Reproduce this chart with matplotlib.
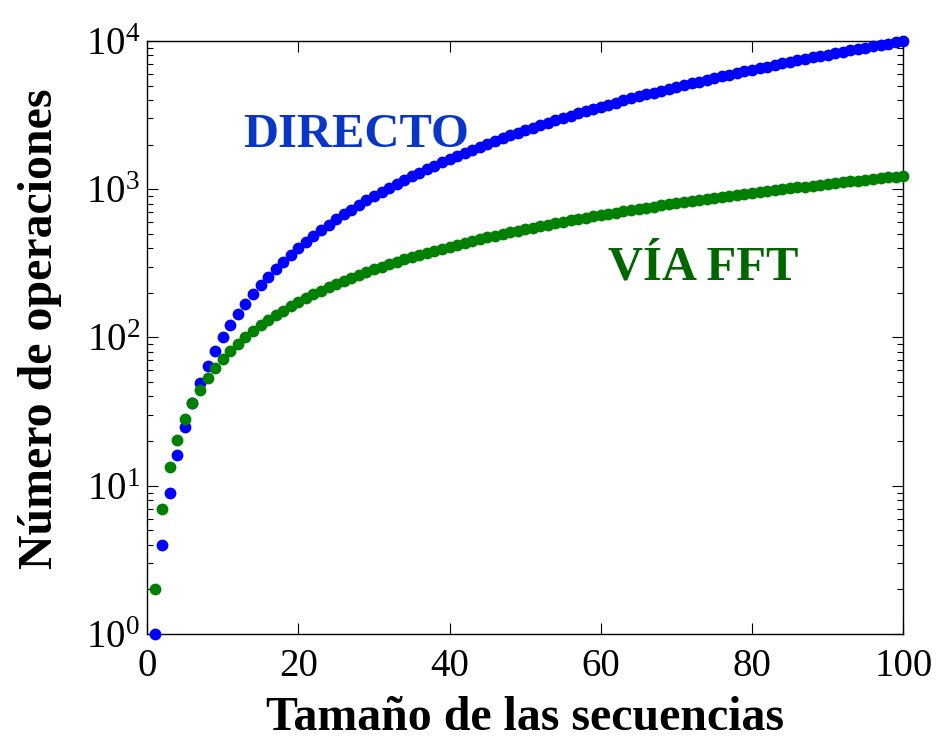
import matplotlib
matplotlib.use("Agg")
import matplotlib.pyplot as plt
import numpy as np

plt.rcParams['font.family'] = ['Liberation Serif', 'DejaVu Serif']
plt.rcParams['mathtext.fontset'] = 'custom'
plt.rcParams['mathtext.rm'] = 'Liberation Serif'
plt.rcParams['mathtext.it'] = 'Liberation Serif:italic'
plt.rcParams['mathtext.bf'] = 'Liberation Serif:bold'

# tamaño de las secuencias
n = list(range(1, 101))

# operaciones, calculo directo (N^2)
directo = [1, 4, 9, 16, 25, 36, 49, 64, 81, 100,
           121, 144, 169, 196, 225, 256, 289, 324, 361, 400,
           441, 484, 529, 576, 625, 676, 729, 784, 841, 900,
           961, 1024, 1089, 1156, 1225, 1296, 1369, 1444, 1521, 1600,
           1681, 1764, 1849, 1936, 2025, 2116, 2209, 2304, 2401, 2500,
           2601, 2704, 2809, 2916, 3025, 3136, 3249, 3364, 3481, 3600,
           3721, 3844, 3969, 4096, 4225, 4356, 4489, 4624, 4761, 4900,
           5041, 5184, 5329, 5476, 5625, 5776, 5929, 6084, 6241, 6400,
           6561, 6724, 6889, 7056, 7225, 7396, 7569, 7744, 7921, 8100,
           8281, 8464, 8649, 8836, 9025, 9216, 9409, 9604, 9801, 10000]

# operaciones via FFT
via_fft = [2, 7, 13.4, 20.4, 28, 36, 44.5, 53, 62, 71.5,
           81, 91, 101, 111, 121, 131, 142, 152, 163, 174,
           185, 196, 207, 219, 230, 241, 253, 265, 276, 288,
           300, 312, 324, 336, 348, 361, 373, 385, 398, 410,
           423, 435, 448, 460, 473, 486, 499, 512, 524, 537,
           550, 564, 577, 590, 603, 616, 629, 643, 656, 669,
           683, 696, 710, 723, 737, 750, 764, 778, 791, 805,
           819, 833, 846, 860, 874, 888, 902, 916, 930, 944,
           958, 972, 986, 1000, 1014, 1029, 1043, 1057, 1071, 1086,
           1100, 1114, 1129, 1143, 1157, 1172, 1186, 1201, 1215, 1230]

fig = plt.figure(figsize=(9.37, 7.41), dpi=100)
ax = fig.add_axes([0.157, 0.1444, 0.807, 0.8003])

ax.semilogy(n, directo, 'o', color=(0, 0, 1), markersize=8.5, markeredgewidth=0, clip_on=False, zorder=3)
ax.semilogy(n, via_fft, 'o', color=(0, 0.5, 0), markersize=8.5, markeredgewidth=0, clip_on=False, zorder=3)

ax.set_xlim(0, 100)
ax.set_ylim(1, 1e4)
ax.set_xticks([0, 20, 40, 60, 80, 100])

ax.tick_params(which='both', direction='in', top=True, right=True, labelsize=28, width=0.8)
ax.tick_params(which='major', length=8)
ax.tick_params(axis='x', which='major', pad=10)
ax.tick_params(axis='y', which='major', pad=5)
ax.tick_params(which='minor', length=4.5)
for s in ax.spines.values():
    s.set_linewidth(1.0)

ax.set_xlabel('Tamaño de las secuencias', fontsize=34.5, fontweight='bold')
ax.set_ylabel('Número de operaciones', fontsize=34.5, fontweight='bold')
ax.xaxis.set_label_coords(0.5, -0.105)
ax.yaxis.set_label_coords(-0.112, 0.515)

ax.text(12.7, 1930, 'DIRECTO', color='#0a36c8', fontsize=35, fontweight='bold', va='baseline', ha='left')
ax.text(61.0, 246, 'VÍA FFT', color='#006600', fontsize=35, fontweight='bold', va='baseline', ha='left')

fig.savefig('out.png', dpi=100)
